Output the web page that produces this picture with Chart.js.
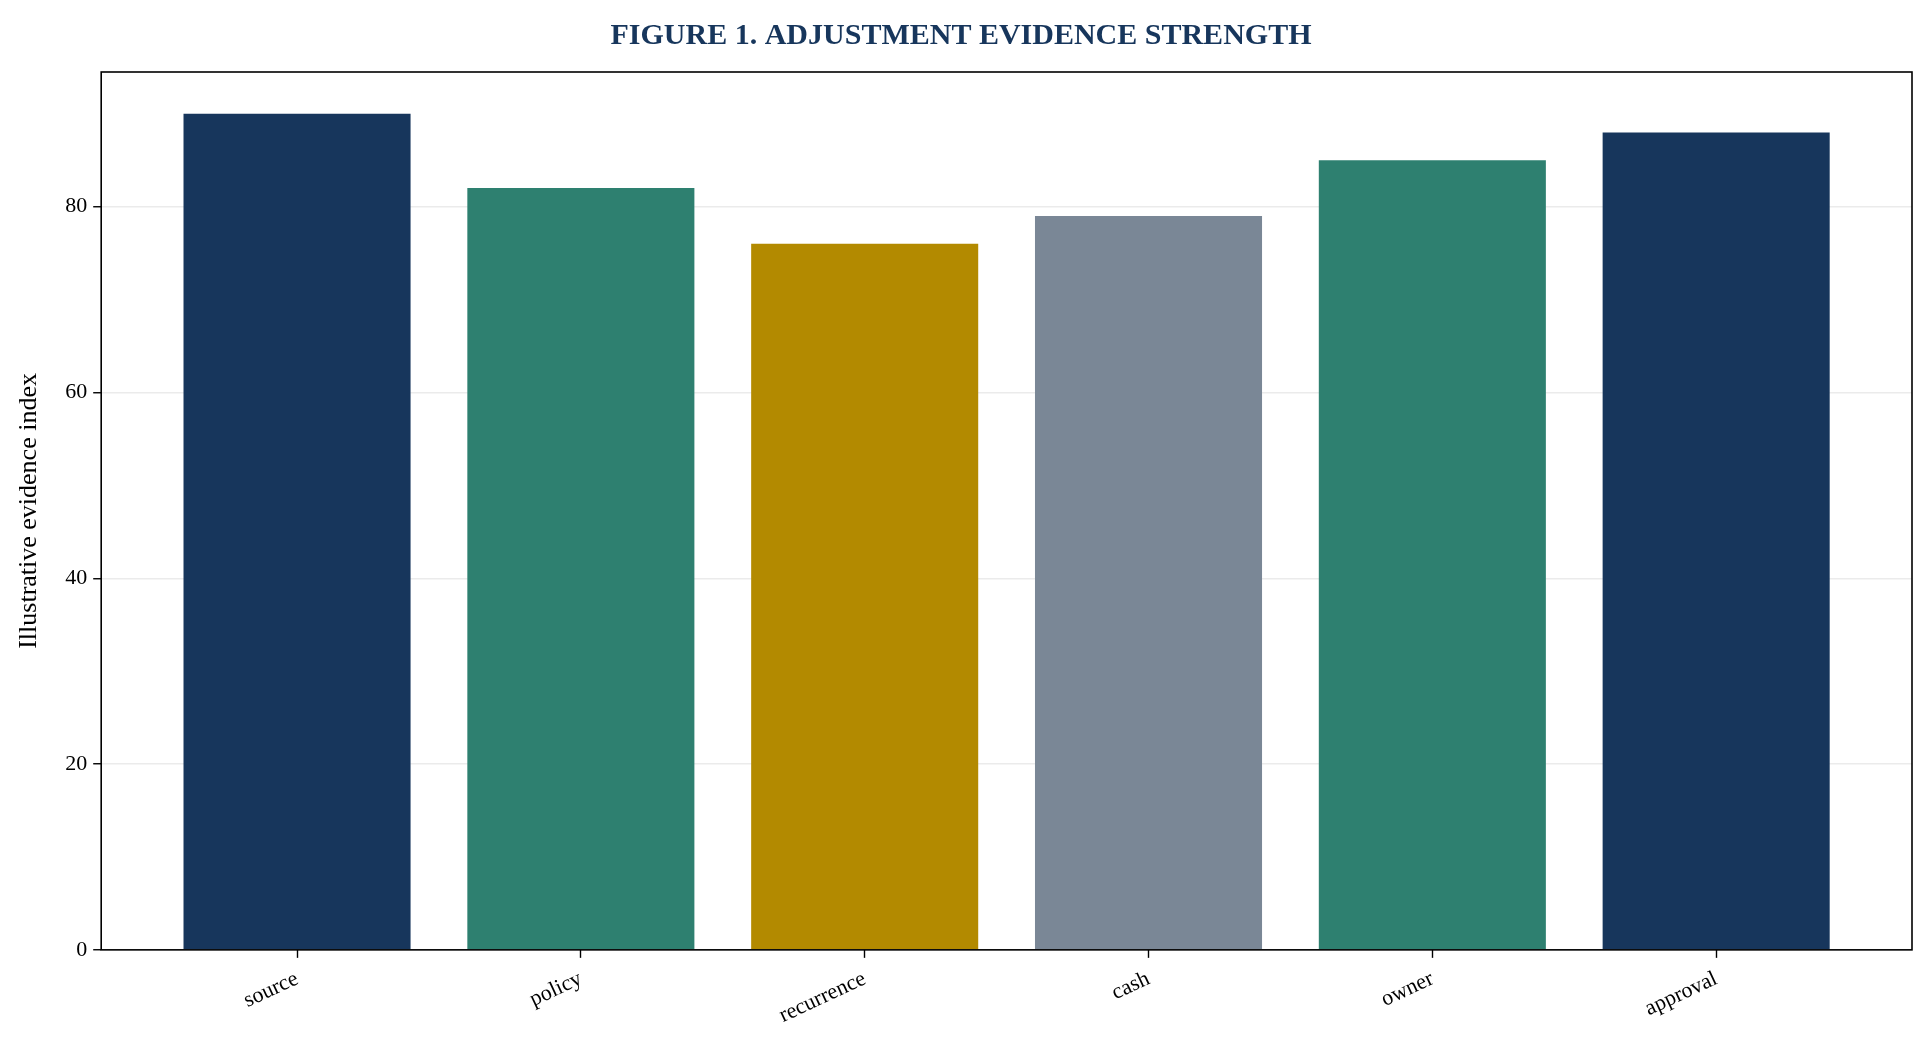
<!DOCTYPE html>
<html><head><meta charset="utf-8">
<script src="https://cdn.jsdelivr.net/npm/chart.js@4"></script>
<style>html,body{margin:0;background:#fff}#w{width:1924px;height:1053px}</style>
</head><body><div id="w"><canvas id="c"></canvas></div>
<script>
const categories = ["source","policy","recurrence","cash","owner","approval"];
const values = [90, 82, 76, 79, 85, 88];
const barColors = ["#17365c","#2e8070","#b38a00","#7a8796","#2e8070","#17365c"];
const yTicks = [0,20,40,60,80];
const F = "'Liberation Serif','Times New Roman',serif";
const frame = {id:'frame', afterDraw(ch){const a=ch.chartArea,x=ch.ctx;x.save();x.strokeStyle='#000';x.lineWidth=1.6;x.strokeRect(a.left,a.top,a.right-a.left,a.bottom-a.top);x.restore();}};
new Chart(document.getElementById('c'),{
type:'bar',
data:{datasets:[{data:values.map((v,i)=>({x:i,y:v})),backgroundColor:barColors,barPercentage:0.8,categoryPercentage:1}]},
options:{responsive:true,maintainAspectRatio:false,animation:false,
layout:{padding:{left:10,right:12,top:4,bottom:16}},
plugins:{legend:{display:false},tooltip:{enabled:false},
title:{display:true,text:'FIGURE 1. ADJUSTMENT EVIDENCE STRENGTH',color:'#17365c',font:{family:F,size:30,weight:'bold'},padding:{top:14,bottom:18}}},
scales:{
x:{type:'linear',offset:false,min:-0.69,max:5.69,border:{display:false},
afterBuildTicks(s){s.ticks=categories.map((_,i)=>({value:i}));},
ticks:{autoSkip:false,maxRotation:25,minRotation:25,color:'#000',font:{family:F,size:22},padding:8,callback:v=>categories[v]},
grid:{display:true,offset:false,drawOnChartArea:false,tickLength:8,tickColor:'#000',tickWidth:1.4}},
y:{min:0,max:94.5,z:1,afterBuildTicks(s){s.ticks=yTicks.map(v=>({value:v}));},
border:{display:false},
grid:{color:'rgba(0,0,0,0.08)',lineWidth:1.5,tickColor:'#000',tickLength:8,tickWidth:1.4},
ticks:{color:'#000',font:{family:F,size:22},padding:6},
title:{display:true,text:'Illustrative evidence index',color:'#000',font:{family:F,size:26},padding:{bottom:14}}}
}},
plugins:[frame]
});
</script></body></html>
